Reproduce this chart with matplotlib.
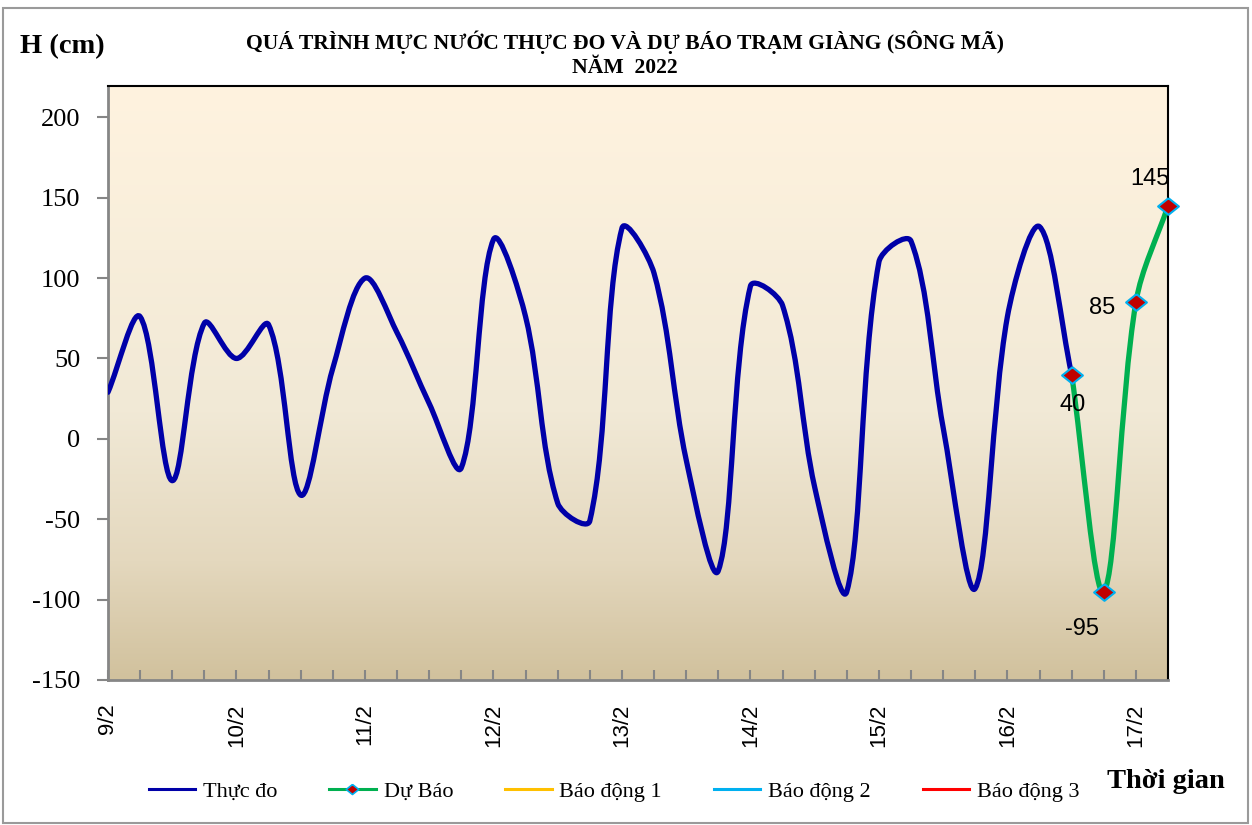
import matplotlib
matplotlib.use("Agg")
import matplotlib.pyplot as plt
import numpy as np
from matplotlib.path import Path
from matplotlib.patches import PathPatch, Rectangle
from matplotlib.lines import Line2D
from matplotlib.colors import LinearSegmentedColormap

# hours since 9/2 00h, 6-hourly
obs_hours = list(range(0, 181, 6))
obs_level = [29, 76, -26, 72, 50, 71, -35, 44, 100, 66, 22, -18, 124, 76, -40, -51,
             131, 103, -13, -82, 95, 83, -30, -95, 110, 123, 7, -93, 76, 132, 40]
fc_hours = [180, 186, 192, 198]
fc_level = [40, -95, 85, 145]
day_labels = ['9/2', '10/2', '11/2', '12/2', '13/2', '14/2', '15/2', '16/2', '17/2']
legend_names = ['Thực đo', 'Dự Báo', 'Báo động 1', 'Báo động 2', 'Báo động 3']

SERIF = ['Liberation Serif', 'DejaVu Serif']
SANS = ['Liberation Sans', 'DejaVu Sans']


def smooth_path(ax, x, y, t=1 / 3):
    # bezier smoothing done in pixel space, control arms scaled by segment length
    pts = ax.transData.transform(np.column_stack([x, y]).astype(float))
    n = len(pts)
    verts = [pts[0]]
    codes = [Path.MOVETO]
    for i in range(n - 1):
        p0 = pts[i - 1] if i > 0 else pts[i]
        p1, p2 = pts[i], pts[i + 1]
        p3 = pts[i + 2] if i + 2 < n else pts[i + 1]
        l01 = np.hypot(*(p1 - p0))
        l12 = np.hypot(*(p2 - p1))
        l23 = np.hypot(*(p3 - p2))
        c1 = p1 + (p2 - p0) * t * l12 / max(l01 + l12, 1e-9)
        c2 = p2 - (p3 - p1) * t * l12 / max(l12 + l23, 1e-9)
        verts += [c1, c2, p2]
        codes += [Path.CURVE4] * 3
    verts = ax.transData.inverted().transform(np.array(verts))
    return Path(verts, codes)


fig = plt.figure(figsize=(12.52, 8.25), dpi=100)
ax = fig.add_axes([108 / 1252, 1 - 680 / 825, (1168 - 108) / 1252, (680 - 86) / 825])
ax.set_xlim(0, 198)
ax.set_ylim(-150, 219.5)

# gradient background, cream at top to tan at bottom
cmap = LinearSegmentedColormap.from_list('bg', [(0, '#FFF3DF'), (0.55, '#F1E9D6'), (0.8, '#E4D8BE'), (1, '#D1C19D')])
ax.imshow(np.linspace(1, 0, 256).reshape(-1, 1), aspect='auto', cmap=cmap, vmin=0, vmax=1,
          extent=[0, 198, -150, 219.5], origin='lower', zorder=0)

ax.add_patch(PathPatch(smooth_path(ax, obs_hours, obs_level), fill=False, edgecolor='#0000A8',
                       lw=3.8, capstyle='round', joinstyle='round', zorder=3))
ax.add_patch(PathPatch(smooth_path(ax, fc_hours, fc_level), fill=False, edgecolor='#00B050',
                       lw=3.8, capstyle='round', joinstyle='round', zorder=3))
diamond = [(0, 0.8), (1, 0), (0, -0.8), (-1, 0), (0, 0.8)]
ax.plot(fc_hours, fc_level, linestyle='none', marker=diamond, markersize=15,
        markerfacecolor='#C00000', markeredgecolor='#00B0F0', markeredgewidth=1.5,
        zorder=5, clip_on=False)

offsets = [(1, -22), (-16, -27), (-24, -4), (-13, 19)]
for h, v, off in zip(fc_hours, fc_level, offsets):
    ax.annotate(str(v), (h, v), xytext=off, textcoords='offset points', ha='center',
                va='center', fontsize=17, family=SANS, color='black', zorder=6)

ax.set_yticks(range(-150, 201, 50))
ax.set_yticklabels([str(v) for v in range(-150, 201, 50)], family=SERIF, fontsize=19)
ax.set_xticks(range(0, 193, 24))
ax.set_xticklabels(day_labels, family=SANS, fontsize=16, rotation=90)
ax.set_xticks(range(0, 199, 6), minor=True)
ax.tick_params(axis='y', direction='out', length=8, width=1.5, color='#868686', pad=12)
ax.tick_params(axis='x', which='both', direction='in', length=7, width=1.5, color='#868686', pad=17)

for s in ['left', 'bottom']:
    ax.spines[s].set_color('#868686')
    ax.spines[s].set_linewidth(2)
for s in ['top', 'right']:
    ax.spines[s].set_color('black')
    ax.spines[s].set_linewidth(1.5)

fig.text(625 / 1252, 1 - 42 / 825, 'QUÁ TRÌNH MỰC NƯỚC THỰC ĐO VÀ DỰ BÁO TRẠM GIÀNG (SÔNG MÃ)',
         ha='center', va='center', fontsize=15.6, fontweight='bold', family=SERIF)
fig.text(625 / 1252, 1 - 68 / 825, 'NĂM  2022', ha='center', va='center',
         fontsize=15.6, fontweight='bold', family=SERIF)
fig.text(20 / 1252, 1 - 47 / 825, 'H (cm)', ha='left', va='center', fontsize=20.5,
         fontweight='bold', family=SERIF)
fig.text(1166 / 1252, 1 - 781 / 825, 'Thời gian', ha='center', va='center', fontsize=20.5,
         fontweight='bold', family=SERIF)

handles = [
    Line2D([], [], color='#0000A8', lw=2.2),
    Line2D([], [], color='#00B050', lw=2.2, marker=diamond, markersize=9,
           markerfacecolor='#C00000', markeredgecolor='#00B0F0', markeredgewidth=1.2),
    Line2D([], [], color='#FFC000', lw=2.2),
    Line2D([], [], color='#00B0F0', lw=2.2),
    Line2D([], [], color='#FF0000', lw=2.2),
]
fig.legend(handles, legend_names, loc='center', bbox_to_anchor=(614 / 1252, 1 - 792 / 825),
           ncol=5, frameon=False, prop={'family': SERIF, 'size': 16}, handlelength=2.1,
           handletextpad=0.35, columnspacing=2.33)

fig.add_artist(Rectangle((3 / 1252, 1 - 823 / 825), 1245 / 1252, 815 / 825,
                         transform=fig.transFigure, fill=False, edgecolor='#9A9A9A', lw=1.5))

fig.savefig('out.png', dpi=100)
